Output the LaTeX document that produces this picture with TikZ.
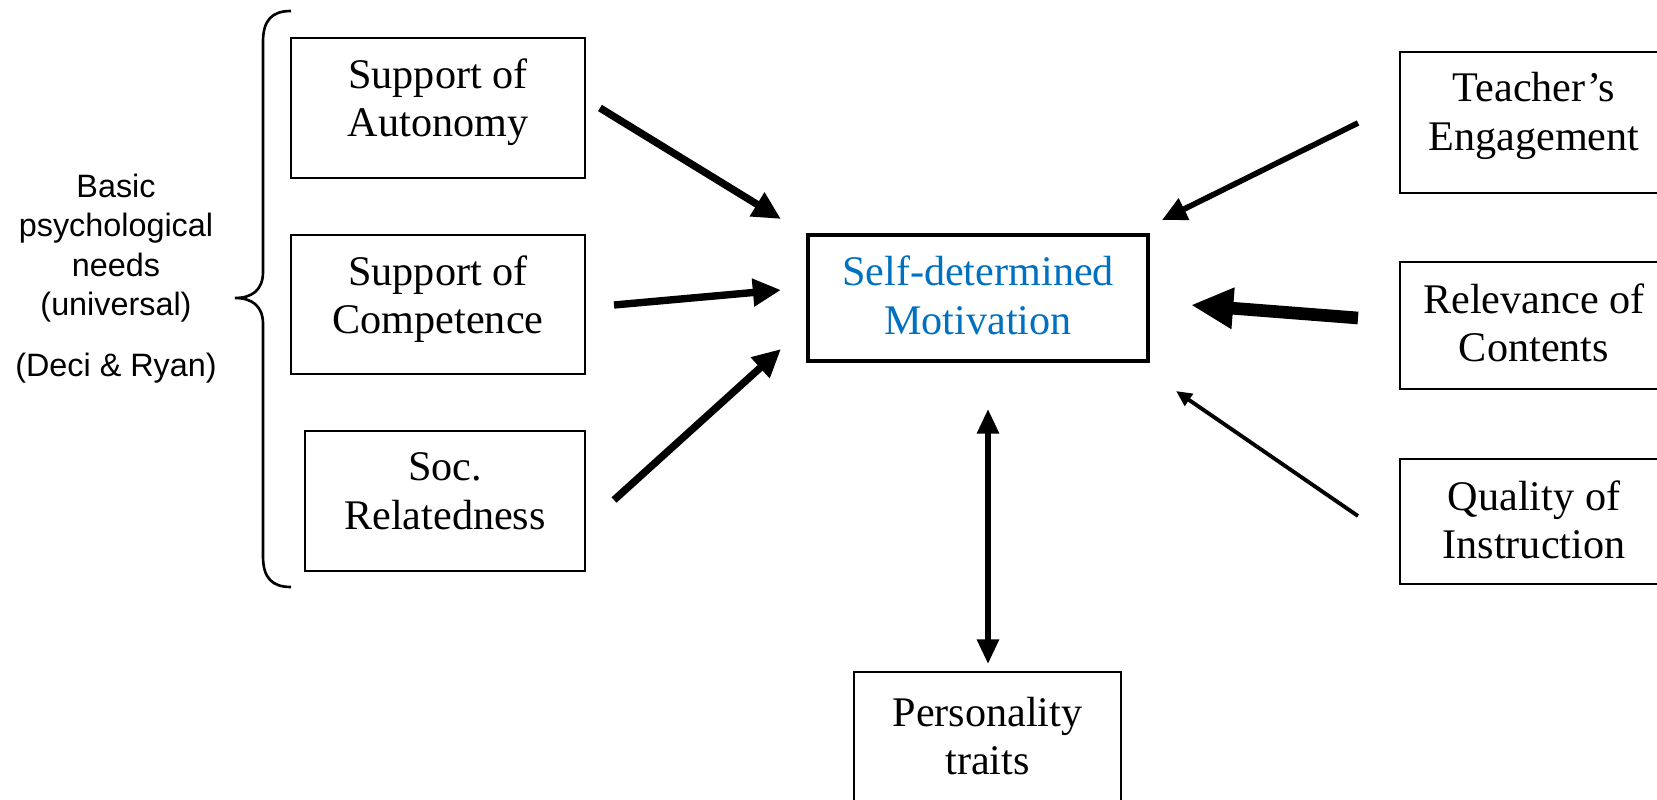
\documentclass[tikz,border=0pt]{standalone}
\usepackage{fontspec}
\setmainfont{Liberation Serif}
\newfontfamily\labelsans{Liberation Sans}
\usetikzlibrary{arrows.meta}
\definecolor{motblue}{RGB}{0,112,192}
% two centred lines, moved up by #1 without changing the box extents
\newcommand\stackedtext[2]{\raisebox{#1}[\height][\depth]{\begin{tabular}{@{}c@{}}#2\end{tabular}}}
\begin{document}
\begin{tikzpicture}[x=0.01cm,y=-0.01cm,
  factor/.style={draw, line width=0.6pt, inner sep=0pt,
    font=\fontsize{12}{13.8}\selectfont},
  needtext/.style={align=center, inner sep=0pt,
    font=\labelsans\fontsize{9.2}{11.2}\selectfont},
  link/.style={line width=2.1pt, -{Triangle[length=8pt,width=7.5pt]}},
]
\useasboundingbox (0,0) rectangle (1657,800);
\clip (0,0) rectangle (1657,800);

% boxes
\node[factor, minimum width=2.94cm, minimum height=1.40cm] (aut) at (438,108) {\stackedtext{1.5pt}{Support of\\Autonomy}};
\node[factor, minimum width=2.94cm, minimum height=1.39cm] (comp) at (438,304.5) {\stackedtext{1.4pt}{Support of\\Competence}};
\node[factor, minimum width=2.80cm, minimum height=1.40cm] (soc) at (445,501) {\stackedtext{1.6pt}{Soc.\\Relatedness}};
\node[factor, line width=1pt, text=motblue, minimum width=3.40cm, minimum height=1.26cm] (mot) at (978,298) {\stackedtext{-0.6pt}{Self-determined\\Motivation}};
\node[factor, minimum width=2.67cm, minimum height=1.40cm] (pers) at (987.5,742) {\stackedtext{0.3pt}{Personality\\traits}};
\node[factor, minimum width=2.68cm, minimum height=1.41cm] (teach) at (1534,122.5) {\stackedtext{1.8pt}{Teacher’s\\Engagement}};
\node[factor, minimum width=2.68cm, minimum height=1.27cm] (rel) at (1534,325.5) {\stackedtext{-0.6pt}{Relevance of\\Contents}};
\node[factor, minimum width=2.68cm, minimum height=1.25cm] (qual) at (1534,521.5) {\stackedtext{-0.9pt}{Quality of\\Instruction}};

% label for the three basic needs
\node[needtext] (needs) at (116,248) {Basic\\psychological\\needs\\(universal)};
\node[needtext] (deci) at (116,368) {(Deci \& Ryan)};

% curly brace grouping the needs
\draw[line width=0.75pt] (291,11) .. controls (272,11) and (263,20) .. (263,42)
  -- (263,272) .. controls (263,290) and (252,298) .. (235,298)
  .. controls (252,298) and (263,306) .. (263,324)
  -- (263,556) .. controls (263,578) and (272,587) .. (291,587);

% arrow end points
\coordinate (a1s) at (600,108);  \coordinate (a1e) at (781,219);
\coordinate (a2s) at (614,305);  \coordinate (a2e) at (781,290);
\coordinate (a3s) at (614,500);  \coordinate (a3e) at (781,349);
\coordinate (a4s) at (1358,123); \coordinate (a4e) at (1162,220);
\coordinate (a5s) at (1358,318); \coordinate (a5e) at (1191,305);
\coordinate (a6s) at (1358,516); \coordinate (a6e) at (1176,391);
\coordinate (a7s) at (988,409);  \coordinate (a7e) at (988,664);

\draw[link] (a1s) -- (a1e);
\draw[link] (a2s) -- (a2e);
\draw[link] (a3s) -- (a3e);
\draw[line width=1.6pt, -{Triangle[length=7pt,width=6.5pt]}] (a4s) -- (a4e);
\draw[line width=3.6pt, -{Triangle[length=12pt,width=11pt]}] (a5s) -- (a5e);
\draw[line width=1.1pt, -{Triangle[length=4.5pt,width=4pt]}] (a6s) -- (a6e);
\draw[line width=1.6pt, {Triangle[length=7pt,width=6pt]}-{Triangle[length=7pt,width=6pt]}] (a7s) -- (a7e);
\end{tikzpicture}
\end{document}
